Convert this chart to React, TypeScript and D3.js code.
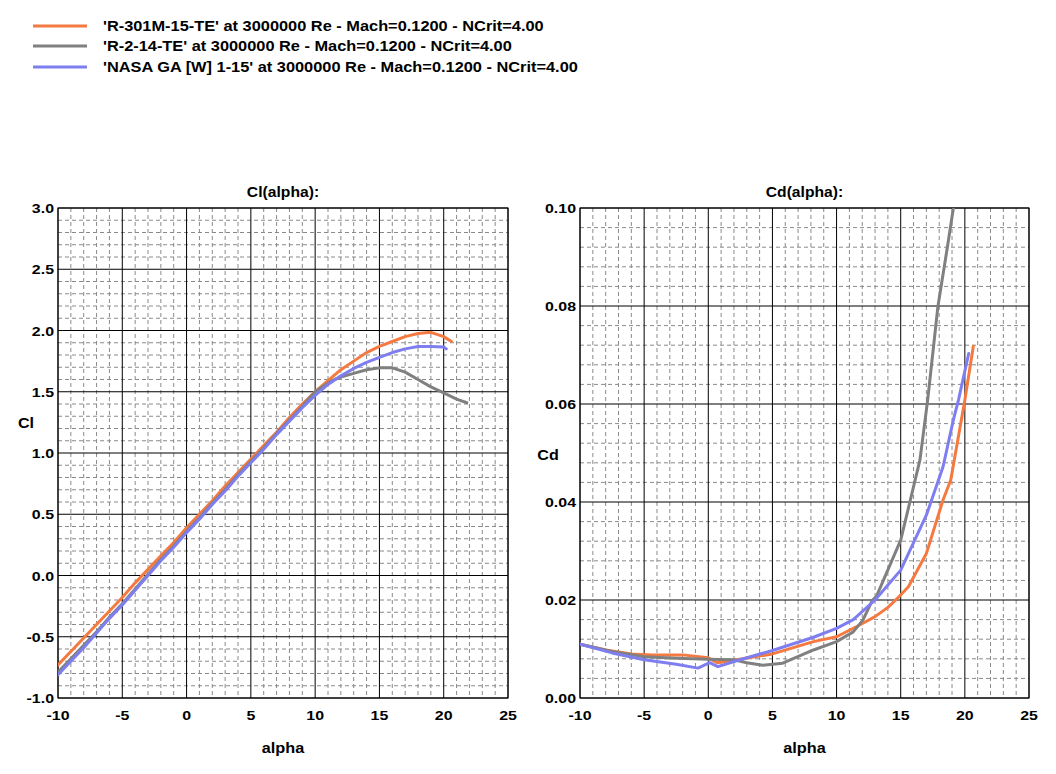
import * as d3 from "d3";

// legend entries
const seriesNames = [
  "'R-301M-15-TE' at 3000000 Re - Mach=0.1200 - NCrit=4.00",
  "'R-2-14-TE' at 3000000 Re - Mach=0.1200 - NCrit=4.00",
  "'NASA GA [W] 1-15' at 3000000 Re - Mach=0.1200 - NCrit=4.00",
];
const seriesColors = ["#F47A42", "#808080", "#7E7EF0"];

// Cl(alpha)
const clAlphaOrange = [-10, -9, -8, -7, -6, -5, -4, -3, -2, -1, 0, 1, 2, 3, 4, 5, 6, 7, 8, 9, 10, 11, 12, 13, 14, 15, 16, 17, 18, 19, 20, 20.6];
const clOrange = [-0.73, -0.62, -0.51, -0.4, -0.29, -0.18, -0.06, 0.05, 0.16, 0.27, 0.39, 0.5, 0.61, 0.73, 0.84, 0.95, 1.06, 1.17, 1.29, 1.4, 1.5, 1.59, 1.68, 1.75, 1.82, 1.87, 1.91, 1.95, 1.975, 1.985, 1.95, 1.91];

const clAlphaGray = [-10, -9, -8, -7, -6, -5, -4, -3, -2, -1, 0, 1, 2, 3, 4, 5, 6, 7, 8, 9, 10, 11, 11.5, 12, 13, 14, 15, 16, 17, 18, 19, 20, 21, 21.8];
const clGray = [-0.79, -0.68, -0.57, -0.46, -0.34, -0.23, -0.11, 0.01, 0.13, 0.24, 0.36, 0.47, 0.59, 0.7, 0.82, 0.93, 1.04, 1.16, 1.27, 1.38, 1.5, 1.57, 1.6, 1.62, 1.65, 1.68, 1.695, 1.695, 1.66, 1.6, 1.54, 1.49, 1.44, 1.41];

const clAlphaBlue = [-10, -9, -8, -7, -6, -5, -4, -3, -2, -1, 0, 1, 2, 3, 4, 5, 6, 7, 8, 9, 10, 11, 12, 13, 14, 15, 16, 17, 18, 19, 20, 20.2];
const clBlue = [-0.81, -0.7, -0.59, -0.47, -0.35, -0.24, -0.12, 0.0, 0.12, 0.23, 0.35, 0.46, 0.58, 0.69, 0.81, 0.92, 1.03, 1.15, 1.26, 1.37, 1.47, 1.56, 1.63, 1.69, 1.74, 1.78, 1.82, 1.85, 1.87, 1.87, 1.865, 1.85];

// Cd(alpha)
const cdAlphaOrange = [-10, -8, -6, -4.4, -2, 0, 0.7, 2.2, 5, 8.2, 10, 11.8, 13, 14, 14.8, 15.6, 17, 18.3, 18.9, 20, 20.66];
const cdOrange = [0.011, 0.0098, 0.009, 0.0088, 0.0088, 0.0082, 0.0072, 0.0078, 0.009, 0.0115, 0.0125, 0.0149, 0.0166, 0.0185, 0.0205, 0.0227, 0.0295, 0.0404, 0.0445, 0.0608, 0.0718];

const cdAlphaGray = [-10, -7.5, -5, -2.5, 0, 2, 3, 4.25, 5.8, 8.2, 10, 11.3, 12.05, 12.8, 13.1, 15, 16.5, 17.1, 17.9, 18.6, 19.1, 19.3];
const cdGray = [0.011, 0.0095, 0.0084, 0.0081, 0.0079, 0.0078, 0.0072, 0.0067, 0.0071, 0.0098, 0.0115, 0.0135, 0.0159, 0.02, 0.0207, 0.0322, 0.0486, 0.0608, 0.0799, 0.0914, 0.0999, 0.104];

const cdAlphaBlue = [-10, -7.5, -5, -2.5, -0.8, 0.1, 0.75, 2.2, 5, 8.2, 10, 11.3, 13, 15, 17, 18.3, 19.1, 19.5, 20.3];
const cdBlue = [0.011, 0.0092, 0.0078, 0.0069, 0.0061, 0.0072, 0.0064, 0.0076, 0.0097, 0.0124, 0.0142, 0.016, 0.02, 0.0261, 0.0373, 0.0472, 0.0567, 0.0608, 0.0703];

const alphaTicks = [-10, -5, 0, 5, 10, 15, 20, 25];
const clTicks = [-1.0, -0.5, 0.0, 0.5, 1.0, 1.5, 2.0, 2.5, 3.0];
const cdTicks = [0.0, 0.02, 0.04, 0.06, 0.08, 0.1];

const FONT = "Arial, 'Liberation Sans', sans-serif";

// bold label, stretched sideways like the wide bitmap font of the original
function Label(props: {
  x: number;
  y: number;
  size: number;
  stretch: number;
  anchor?: "start" | "middle" | "end";
  children: any;
}) {
  return (
    <text
      transform={`translate(${props.x},${props.y}) scale(${props.stretch},1)`}
      textAnchor={props.anchor || "start"}
      fontSize={props.size}
      fontWeight="bold"
      fontFamily={FONT}
      fill="#000"
    >
      {props.children}
    </text>
  );
}

type Series = { xs: number[]; ys: number[]; color: string };

interface PanelProps {
  left: number;
  right: number;
  top: number;
  bottom: number;
  yDomain: [number, number];
  yTicks: number[];
  yMinorStep: number;
  yFormat: (v: number) => string;
  title: string;
  yLabel: string;
  yLabelPos: [number, number];
  series: Series[];
  clipId: string;
}

function Panel(p: PanelProps) {
  const x = d3.scaleLinear().domain([-10, 25]).range([p.left, p.right]);
  const y = d3.scaleLinear().domain(p.yDomain).range([p.bottom, p.top]);
  const xMinor = d3.range(-10, 25.001, 1).filter((v) => v % 5 !== 0);
  const nMinor = Math.round((p.yDomain[1] - p.yDomain[0]) / p.yMinorStep);
  const yMinor = d3
    .range(0, nMinor + 1)
    .filter((i) => i % 5 !== 0)
    .map((i) => p.yDomain[0] + i * p.yMinorStep);
  const line = d3
    .line<[number, number]>()
    .x((d) => x(d[0]))
    .y((d) => y(d[1]));
  const cx = (p.left + p.right) / 2;

  return (
    <g>
      <defs>
        <clipPath id={p.clipId}>
          <rect x={p.left} y={p.top} width={p.right - p.left} height={p.bottom - p.top} />
        </clipPath>
      </defs>
      {xMinor.map((v) => (
        <line key={"xm" + v} x1={x(v)} x2={x(v)} y1={p.top} y2={p.bottom} stroke="#8a8a8a" strokeDasharray="4,3" />
      ))}
      {yMinor.map((v, i) => (
        <line key={"ym" + i} x1={p.left} x2={p.right} y1={y(v)} y2={y(v)} stroke="#8a8a8a" strokeDasharray="4,3" />
      ))}
      {alphaTicks.map((v) => (
        <line key={"xM" + v} x1={x(v)} x2={x(v)} y1={p.top} y2={p.bottom} stroke="#000" />
      ))}
      {p.yTicks.map((v) => (
        <line key={"yM" + v} x1={p.left} x2={p.right} y1={y(v)} y2={y(v)} stroke="#000" />
      ))}
      <rect x={p.left} y={p.top} width={p.right - p.left} height={p.bottom - p.top} fill="none" stroke="#000" />
      <g clipPath={`url(#${p.clipId})`}>
        {p.series.map((s, i) => (
          <path
            key={i}
            d={line(s.xs.map((a, j) => [a, s.ys[j]] as [number, number])) || ""}
            fill="none"
            stroke={s.color}
            strokeWidth={3}
            strokeLinejoin="round"
            strokeLinecap="round"
          />
        ))}
      </g>
      {alphaTicks.map((v) => (
        <Label key={"xl" + v} x={x(v)} y={720} size={13.5} stretch={1.18} anchor="middle">
          {v}
        </Label>
      ))}
      {p.yTicks.map((v) => (
        <Label key={"yl" + v} x={p.left - 4} y={y(v) + 5} size={13.5} stretch={1.18} anchor="end">
          {p.yFormat(v)}
        </Label>
      ))}
      <Label x={cx} y={197} size={14} stretch={1.12} anchor="middle">
        {p.title}
      </Label>
      <Label x={cx} y={753} size={14} stretch={1.16} anchor="middle">
        alpha
      </Label>
      <Label x={p.yLabelPos[0]} y={p.yLabelPos[1]} size={14} stretch={1.15} anchor="middle">
        {p.yLabel}
      </Label>
    </g>
  );
}

export default function App() {
  const clSeries: Series[] = [
    { xs: clAlphaOrange, ys: clOrange, color: seriesColors[0] },
    { xs: clAlphaGray, ys: clGray, color: seriesColors[1] },
    { xs: clAlphaBlue, ys: clBlue, color: seriesColors[2] },
  ];
  const cdSeries: Series[] = [
    { xs: cdAlphaOrange, ys: cdOrange, color: seriesColors[0] },
    { xs: cdAlphaGray, ys: cdGray, color: seriesColors[1] },
    { xs: cdAlphaBlue, ys: cdBlue, color: seriesColors[2] },
  ];
  const legendY = [26, 46, 67];

  return (
    <svg
      width={1056}
      height={774}
      style={{ position: "absolute", left: 0, top: 0, background: "#fff" }}
    >
      <rect width={1056} height={774} fill="#fff" />
      {seriesNames.map((name, i) => (
        <g key={name}>
          <line x1={33} x2={87} y1={legendY[i]} y2={legendY[i]} stroke={seriesColors[i]} strokeWidth={3} />
          <Label x={103} y={legendY[i] + 5} size={14} stretch={1.17}>
            {name}
          </Label>
        </g>
      ))}
      <Panel
        left={58}
        right={508}
        top={208}
        bottom={698}
        yDomain={[-1, 3]}
        yTicks={clTicks}
        yMinorStep={0.1}
        yFormat={(v) => d3.format(".1f")(v).replace("−", "-")}
        title="Cl(alpha):"
        yLabel="Cl"
        yLabelPos={[26, 428]}
        series={clSeries}
        clipId="clipCl"
      />
      <Panel
        left={580}
        right={1029}
        top={208}
        bottom={698}
        yDomain={[0, 0.1]}
        yTicks={cdTicks}
        yMinorStep={0.004}
        yFormat={(v) => d3.format(".2f")(v)}
        title="Cd(alpha):"
        yLabel="Cd"
        yLabelPos={[548, 460]}
        series={cdSeries}
        clipId="clipCd"
      />
    </svg>
  );
}
